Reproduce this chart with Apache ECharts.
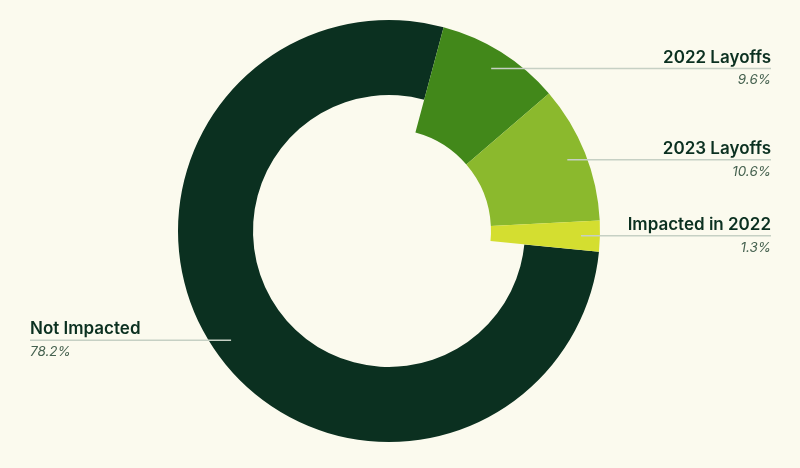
<!DOCTYPE html>
<html>
<head>
<meta charset="utf-8">
<script src="https://cdn.jsdelivr.net/npm/echarts@6/dist/echarts.min.js"></script>
<style>
html, body { margin: 0; padding: 0; background: #fbfaee; }
#chart { width: 800px; height: 468px; }
</style>
</head>
<body>
<div id="chart"></div>
<script>
// data
const categories = ['2022 Layoffs', '2023 Layoffs', 'Impacted in 2022', 'Not Impacted'];
const shares = [9.6, 10.6, 1.3, 78.2];
const colors = ['#42881a', '#8bb92d', '#d4de30', '#0b3020'];
// the big slice sits on a thinner ring than the three small ones
const onThinRing = [false, false, false, true];

const W = 800, H = 468;
const cx = 389, cy = 231, R = 211;

// horizontal leader line from inside the slice out to the page edge
function placeLabel(params) {
    const pts = params.labelLinePoints;
    if (!pts || !pts[0]) return {};
    const a = Math.atan2(pts[0][1] - cy, pts[0][0] - cx);
    const ax = cx + R * 0.91 * Math.cos(a);
    const ay = cy + R * 0.91 * Math.sin(a);
    const left = ax < cx;
    const edge = left ? 30 : W - 29;
    return {
        x: edge,
        y: ay,
        align: left ? 'left' : 'right',
        verticalAlign: 'middle',
        labelLinePoints: [[ax, ay], [(ax + edge) / 2, ay], [edge, ay]]
    };
}

// which: true / false = the slices of one ring, null = label layer only
function ringData(which) {
    return categories.map((name, i) => {
        const show = which !== null && onThinRing[i] === which;
        return {
            name: name,
            value: shares[i],
            itemStyle: { color: show ? colors[i] : 'transparent' }
        };
    });
}

function ring(inner, which) {
    const labels = which === null;
    return {
        type: 'pie',
        z: labels ? 6 : 2,
        center: [cx, cy],
        radius: [inner, R],
        startAngle: 75,
        minAngle: 8.5,
        clockwise: true,
        silent: true,
        avoidLabelOverlap: false,
        label: {
            show: labels,
            formatter: '{n|{b}}\n{p|{c}%}',
            rich: {
                n: { fontFamily: 'Inter', fontSize: 17, fontWeight: 600, color: '#0b3020', lineHeight: 24 },
                p: { fontFamily: 'Inter', fontSize: 13.5, fontStyle: 'italic', color: '#45614f', lineHeight: 22 }
            }
        },
        labelLine: {
            show: labels,
            lineStyle: { color: '#c6d0c4', width: 1.5 }
        },
        labelLayout: labels ? placeLabel : null,
        data: ringData(which)
    };
}

let myChart = echarts.init(document.getElementById('chart'))
const options = {
    backgroundColor: '#fbfaee',
    animation: false,
    series: [
        ring(136, true),
        ring(102, false),
        ring(102, null)
    ]
}
myChart.setOption(options)
</script>
</body>
</html>
